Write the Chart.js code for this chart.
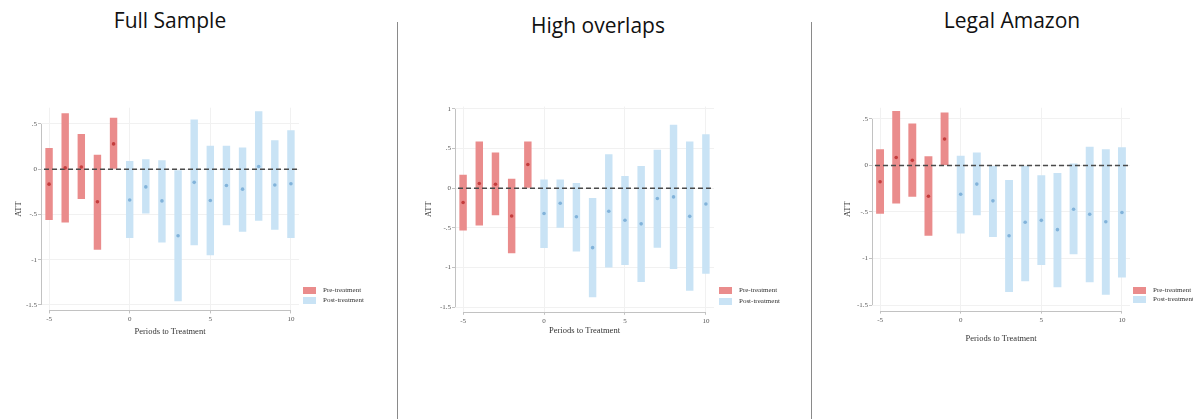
<!DOCTYPE html>
<html>
<head>
<meta charset="utf-8">
<script src="https://cdn.jsdelivr.net/npm/chart.js@4.4.1/dist/chart.umd.min.js"></script>
<style>
  body { margin: 0; background: #fff; width: 1193px; height: 419px; position: relative; overflow: hidden; font-family: "Liberation Serif", serif; }
  canvas { position: absolute; top: 0; }
  .ttl { position: absolute; font-family: "Open Sans", sans-serif; font-size: 21px; color: #111; text-align: center; width: 300px; line-height: 26px; }
  .sep { position: absolute; top: 22px; width: 1px; height: 397px; background: #8a8a8a; }
  .lg { position: absolute; font-size: 7px; color: #333; line-height: 8px; white-space: nowrap; }
  .lg i { display: inline-block; width: 13px; height: 7px; margin-right: 7px; vertical-align: middle; }
</style>
</head>
<body>
<div class="ttl" style="left:20px;top:7px">Full Sample</div>
<div class="ttl" style="left:448px;top:12px">High overlaps</div>
<div class="ttl" style="left:862px;top:7px">Legal Amazon</div>
<div class="sep" style="left:397px"></div>
<div class="sep" style="left:811px"></div>

<canvas id="c1" width="396" height="419" style="left:0px"></canvas>
<canvas id="c2" width="412" height="419" style="left:398px"></canvas>
<canvas id="c3" width="381" height="419" style="left:812px"></canvas>

<div class="lg" style="left:303px;top:286px"><i style="background:#ea8c8c"></i>Pre-treatment</div>
<div class="lg" style="left:303px;top:296px"><i style="background:#c9e3f5"></i>Post-treatment</div>
<div class="lg" style="left:719px;top:286px"><i style="background:#ea8c8c"></i>Pre-treatment</div>
<div class="lg" style="left:719px;top:297px"><i style="background:#c9e3f5"></i>Post-treatment</div>
<div class="lg" style="left:1133px;top:286px"><i style="background:#ea8c8c"></i>Pre-treatment</div>
<div class="lg" style="left:1133px;top:295px"><i style="background:#c9e3f5"></i>Post-treatment</div>

<script>
// periods to treatment
const periods = [-5, -4, -3, -2, -1, 0, 1, 2, 3, 4, 5, 6, 7, 8, 9, 10];

// Full Sample
const fullLo  = [-0.56, -0.59, -0.33, -0.89, 0, -0.76, -0.49, -0.81, -1.46, -0.84, -0.95, -0.62, -0.69, -0.57, -0.67, -0.76];
const fullHi  = [0.235, 0.62, 0.39, 0.16, 0.57, 0.09, 0.11, 0.10, -0.01, 0.55, 0.26, 0.26, 0.24, 0.64, 0.32, 0.43];
const fullAtt = [-0.165, 0.015, 0.025, -0.36, 0.28, -0.34, -0.195, -0.35, -0.735, -0.145, -0.345, -0.18, -0.22, 0.03, -0.175, -0.16];

// High overlaps
const highLo  = [-0.535, -0.47, -0.34, -0.82, 0, -0.755, -0.50, -0.80, -1.375, -1.00, -0.97, -1.185, -0.75, -1.02, -1.295, -1.08];
const highHi  = [0.17, 0.59, 0.45, 0.12, 0.59, 0.11, 0.11, 0.065, -0.125, 0.43, 0.155, 0.28, 0.485, 0.80, 0.59, 0.68];
const highAtt = [-0.18, 0.06, 0.05, -0.35, 0.30, -0.32, -0.19, -0.36, -0.75, -0.29, -0.405, -0.45, -0.13, -0.11, -0.355, -0.20];

// Legal Amazon
const amzLo  = [-0.52, -0.41, -0.335, -0.755, 0, -0.73, -0.535, -0.77, -1.36, -1.245, -1.07, -1.31, -0.955, -1.255, -1.39, -1.205];
const amzHi  = [0.175, 0.585, 0.45, 0.10, 0.57, 0.105, 0.14, 0, -0.155, 0, -0.105, -0.08, 0.02, 0.20, 0.175, 0.195];
const amzAtt = [-0.175, 0.085, 0.055, -0.33, 0.285, -0.31, -0.20, -0.38, -0.755, -0.61, -0.59, -0.69, -0.47, -0.525, -0.605, -0.505];

// y tick values per panel
const yTicksHalf = [-1.5, -1, -0.5, 0, 0.5];
const yTicksOne = [-1.5, -1, -0.5, 0, 0.5, 1];

const preBar = '#ea8c8c', postBar = '#c9e3f5';
const prePt = '#c43d3d', postPt = '#82b3da';

// stata style: .5, -.5
function fmtTick(v) {
  return v.toString().replace('0.', '.');
}

const axisLines = {
  id: 'axisLines',
  beforeDatasetsDraw(chart, args, opts) {
    const { ctx, chartArea, scales: { x, y } } = chart;
    ctx.save();
    ctx.strokeStyle = '#c2c2c2';
    ctx.lineWidth = 1;
    ctx.beginPath();
    const ax = Math.round(chartArea.left) + 0.5;
    ctx.moveTo(ax, y.getPixelForValue(opts.top));
    ctx.lineTo(ax, y.getPixelForValue(-1.5));
    const ay = Math.round(chartArea.bottom) + 0.5;
    ctx.moveTo(x.getPixelForValue(0), ay);
    ctx.lineTo(x.getPixelForValue(periods.length - 1), ay);
    ctx.stroke();
    ctx.restore();
  },
  afterDatasetDraw(chart, args) {
    if (args.index !== 2) return;
    // zero reference line, on top of the bars
    const { ctx, chartArea, scales: { y } } = chart;
    const py = y.getPixelForValue(0);
    ctx.save();
    ctx.strokeStyle = '#4a4a4a';
    ctx.lineWidth = 1.5;
    ctx.setLineDash([5, 3]);
    ctx.beginPath();
    ctx.moveTo(chartArea.left + 3, py);
    ctx.lineTo(chartArea.right, py);
    ctx.stroke();
    ctx.restore();
  }
};

function makePanel(id, lo, hi, att, yTicks, p) {
  const pre = (i) => periods[i] < 0;
  const barsPre = periods.map((v, i) => pre(i) ? [lo[i], hi[i]] : null);
  const barsPost = periods.map((v, i) => pre(i) ? null : [lo[i], hi[i]]);
  const ptsPre = periods.map((v, i) => pre(i) ? att[i] : null);
  const ptsPost = periods.map((v, i) => pre(i) ? null : att[i]);
  const ctx = document.getElementById(id);
  const serif = { family: 'Liberation Serif' };

  new Chart(ctx, {
    type: 'bar',
    data: {
      labels: periods,
      datasets: [
        { type: 'line', data: ptsPre, showLine: false, pointRadius: 1.8, pointBackgroundColor: prePt, pointBorderWidth: 0 },
        { type: 'line', data: ptsPost, showLine: false, pointRadius: 1.8, pointBackgroundColor: postPt, pointBorderWidth: 0 },
        { data: barsPre, backgroundColor: preBar, grouped: false, barPercentage: p.bar, categoryPercentage: 1 },
        { data: barsPost, backgroundColor: postBar, grouped: false, barPercentage: p.bar, categoryPercentage: 1 }
      ]
    },
    options: {
      responsive: false,
      animation: false,
      layout: { padding: { left: p.padL, right: p.w - p.right, top: p.top, bottom: 419 - p.bottom - p.xH } },
      plugins: { legend: { display: false }, tooltip: { enabled: false }, axisLines: { top: yTicks[yTicks.length - 1] } },
      scales: {
        x: {
          type: 'category',
          grid: { offset: false, color: '#f1f1f1', tickColor: '#c2c2c2', tickLength: 3 },
          border: { display: false },
          ticks: {
            autoSkip: false, maxRotation: 0, padding: 2, color: '#555',
            font: { ...serif, size: 7 },
            callback: (val, i) => periods[i] % 5 === 0 ? String(periods[i]) : null
          },
          title: { display: true, text: 'Periods to Treatment', color: '#333', font: { ...serif, size: 8.5 }, padding: 4 },
          afterFit: (s) => { s.height = p.xH; }
        },
        y: {
          min: -1.56, max: p.ymax,
          grid: { color: '#f1f1f1', tickColor: '#c2c2c2', tickLength: 3 },
          border: { display: false },
          afterBuildTicks: (s) => { s.ticks = yTicks.map((v) => ({ value: v })); },
          ticks: { padding: 1, color: '#555', font: { ...serif, size: 7 }, callback: (v) => fmtTick(v) },
          title: { display: true, text: 'ATT', color: '#333', font: { ...serif, size: 8.5 }, padding: 4 },
          afterFit: (s) => { s.width = p.left - p.padL; }
        }
      }
    },
    plugins: [axisLines]
  });
}

makePanel('c1', fullLo, fullHi, fullAtt, yTicksHalf, { w: 396, padL: 9.6, left: 41, right: 299, top: 107.7, bottom: 310.4, xH: 30, ymax: 0.68, bar: 0.46 });
makePanel('c2', highLo, highHi, highAtt, yTicksOne, { w: 412, padL: 21.6, left: 57, right: 316, top: 106.6, bottom: 311.8, xH: 27.6, ymax: 1.03, bar: 0.46 });
makePanel('c3', amzLo, amzHi, amzAtt, yTicksHalf, { w: 381, padL: 26.6, left: 60, right: 318, top: 107.8, bottom: 310.6, xH: 36.8, ymax: 0.62, bar: 0.49 });
</script>
</body>
</html>
